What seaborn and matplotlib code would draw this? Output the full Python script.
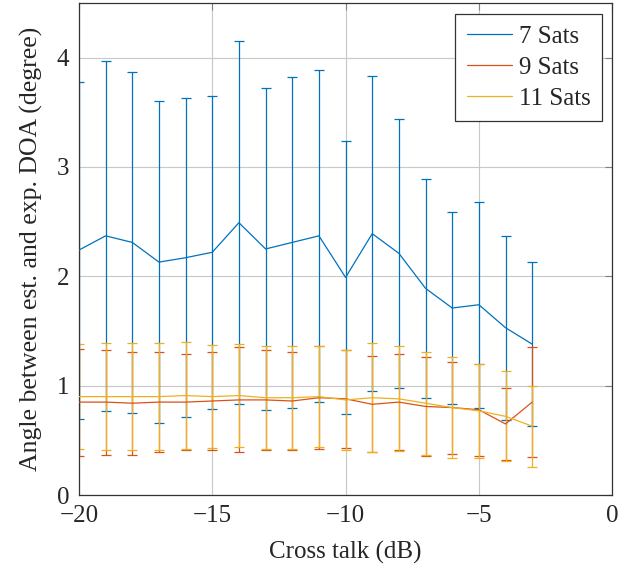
import matplotlib
matplotlib.use("Agg")
import matplotlib.pyplot as plt
import pandas as pd
import seaborn as sns

cross_talk = list(range(-20, -2))

mean_7 = [2.24, 2.37, 2.31, 2.13, 2.17, 2.22, 2.49, 2.25, 2.31, 2.37,
          1.99, 2.39, 2.21, 1.89, 1.71, 1.74, 1.53, 1.38]
upper_7 = [3.78, 3.97, 3.87, 3.60, 3.63, 3.65, 4.15, 3.72, 3.82, 3.89,
           3.24, 3.83, 3.44, 2.89, 2.59, 2.68, 2.37, 2.13]

mean_9 = [0.85, 0.85, 0.84, 0.85, 0.85, 0.86, 0.87, 0.87, 0.86, 0.89,
          0.88, 0.83, 0.85, 0.81, 0.80, 0.78, 0.65, 0.85]
upper_9 = [1.34, 1.33, 1.31, 1.31, 1.29, 1.31, 1.35, 1.33, 1.31, 1.36,
           1.33, 1.27, 1.29, 1.26, 1.22, 1.20, 0.98, 1.35]

mean_11 = [0.90, 0.90, 0.90, 0.90, 0.91, 0.90, 0.91, 0.89, 0.89, 0.90,
           0.87, 0.89, 0.88, 0.84, 0.80, 0.77, 0.72, 0.63]
upper_11 = [1.38, 1.39, 1.39, 1.39, 1.40, 1.37, 1.38, 1.36, 1.36, 1.36,
            1.33, 1.39, 1.36, 1.31, 1.26, 1.20, 1.13, 1.00]

series = {
    "7 Sats": (mean_7, upper_7),
    "9 Sats": (mean_9, upper_9),
    "11 Sats": (mean_11, upper_11),
}
palette = {"7 Sats": "#0072BD", "9 Sats": "#D95319", "11 Sats": "#EDB120"}

sns.set_style("white")
plt.rcParams["font.family"] = ["Liberation Serif", "DejaVu Serif"]

rows = []
for name, (mean, upper) in series.items():
    for x, m, u in zip(cross_talk, mean, upper):
        rows.append({"x": x, "mean": m, "err": u - m, "series": name})
df = pd.DataFrame(rows)

fig = plt.figure(figsize=(6.39, 5.73), dpi=100)
ax = fig.add_axes([0.1236, 0.136, 0.8344, 0.859])

for name in series:
    sub = df[df["series"] == name]
    ax.errorbar(sub["x"], sub["mean"], yerr=sub["err"], fmt="none",
                ecolor=palette[name], elinewidth=0.9, capsize=3.5,
                capthick=0.9, zorder=2)

sns.lineplot(data=df, x="x", y="mean", hue="series", palette=palette,
             hue_order=list(series), linewidth=0.9, ax=ax, zorder=3)

ax.set_xlim(-20, 0)
ax.set_ylim(0, 4.5)
ax.set_xticks([-20, -15, -10, -5, 0])
ax.set_yticks([0, 1, 2, 3, 4])
ax.set_xticklabels(["\u221220", "\u221215", "\u221210", "\u22125", "0"])
ax.grid(True, color="#c8c8c8", linewidth=0.8)
ax.set_axisbelow(True)
ax.tick_params(direction="in", top=True, right=True, labelsize=18,
               length=5, color="#808080")
ax.tick_params(axis="x", pad=7.5)
ax.tick_params(axis="y", pad=7)
for s in ax.spines.values():
    s.set_color("#333333")
    s.set_linewidth(0.9)

ax.set_xlabel("Cross talk (dB)", fontsize=18, labelpad=10)
ax.set_ylabel("Angle between est. and exp. DOA (degree)", fontsize=18.5,
              labelpad=10)

leg = ax.legend(loc="upper right", fontsize=18, fancybox=False, framealpha=1,
                edgecolor="#333333", handlelength=1.8, handletextpad=0.3,
                borderpad=0.45, labelspacing=0.34, borderaxespad=0,
                bbox_to_anchor=(0.981, 0.9776))
leg.get_frame().set_linewidth(0.9)

fig.savefig("out.png", dpi=100)
